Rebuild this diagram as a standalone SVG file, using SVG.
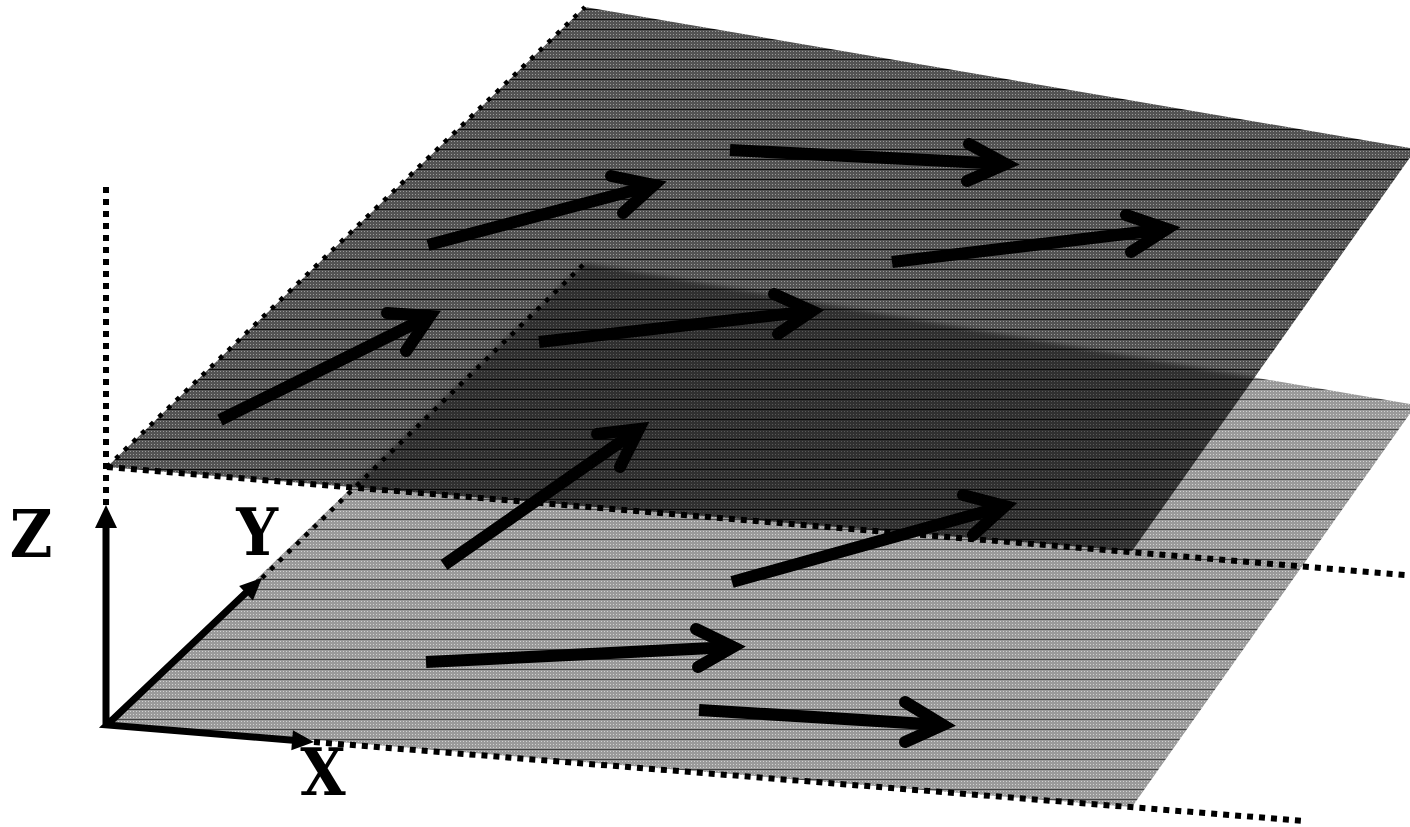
<svg xmlns="http://www.w3.org/2000/svg" width="1410" height="827" viewBox="0 0 1410 827">
  <defs>
    <pattern id="texUpper" width="6" height="10" patternUnits="userSpaceOnUse">
      <rect width="6" height="10" fill="#535353"/>
      <path d="M1 1h1v1h-1z M4 1h1v1h-1z M1 4h1v1h-1z M4 4h1v1h-1z M1 7h1v1h-1z M4 7h1v1h-1z" fill="#9a9a9a"/>
      <rect y="9" width="6" height="1" fill="#0a0a0a"/>
    </pattern>
    <pattern id="texLower" width="6" height="10" patternUnits="userSpaceOnUse">
      <rect width="6" height="10" fill="#9a9a9a"/>
      <path d="M1 1h1v1h-1z M4 1h1v1h-1z M1 4h1v1h-1z M4 4h1v1h-1z M1 7h1v1h-1z M4 7h1v1h-1z" fill="#d2d2d2"/>
      <rect y="9" width="6" height="1" fill="#444444"/>
    </pattern>
    <clipPath id="clipUpper">
      <polygon points="107,467 585,7 1416,149 1132,551"/>
    </clipPath>
    <filter id="soft" x="-5%" y="-5%" width="110%" height="110%">
      <feGaussianBlur stdDeviation="2.5"/>
    </filter>
    <style>
      .dotBig { fill: none; stroke: #000; stroke-width: 6; stroke-dasharray: 6 6; }
      .dotSmall { fill: none; stroke: #000; stroke-width: 4.5; stroke-dasharray: 4.5 7.5; }
      .axis { fill: none; stroke: #000; stroke-width: 7; stroke-linejoin: miter; }
      .head { fill: #000; }
      .shaft { fill: none; stroke: #000; stroke-width: 12; stroke-linecap: butt; }
      .barb { fill: none; stroke: #000; stroke-width: 12; stroke-linecap: round; stroke-linejoin: miter; stroke-miterlimit: 10; }
      .label { font-family: "DejaVu Serif", "Liberation Serif", serif; font-weight: bold; font-stretch: condensed; font-size: 65px; fill: #000; text-anchor: middle; }
    </style>
  </defs>

  <rect width="1410" height="827" fill="#ffffff"/>

  <g id="lower-plane">
    <polygon points="107,723 585,263 1416,405 1132,807" fill="url(#texLower)"/>
  </g>

  <g id="upper-plane">
    <polygon points="107,467 585,7 1416,149 1132,551" fill="url(#texUpper)"/>
    <g clip-path="url(#clipUpper)">
      <polygon points="107,723 585,263 1416,405 1132,807" fill="#000" fill-opacity="0.42" filter="url(#soft)"/>
    </g>
  </g>

  <g id="dotted-edges">
    <line class="dotBig" x1="106" y1="187" x2="106" y2="505"/>
    <line class="dotSmall" x1="107" y1="467" x2="585" y2="7"/>
    <line class="dotBig" x1="107" y1="467" x2="1405" y2="575"/>
    <line class="dotSmall" x1="262" y1="578" x2="585" y2="263"/>
    <line class="dotBig" x1="314" y1="742" x2="1305" y2="821"/>
  </g>

  <g id="axes">
    <path class="axis" d="M106,520 L106,725 M253,586 L107,725 L302,741"/>
    <polygon class="head" points="106,505 95,528 117,528"/>
    <polygon class="head" points="262,578 252.9,600.4 239.1,585.9"/>
    <polygon class="head" points="314,742 292.9,730.2 291.3,750.2"/>
  </g>

  <g id="flow-arrows">
    <g id="arrow-a"><path class="shaft" d="M220,420 L430,316"/><path class="barb" d="M387,313 L430,316 L406,351"/></g>
    <g id="arrow-b"><path class="shaft" d="M428,245 L654,185"/><path class="barb" d="M611,176 L654,185 L623,213"/></g>
    <g id="arrow-c"><path class="shaft" d="M730,150 L1006,164"/><path class="barb" d="M969,144 L1006,164 L967,181"/></g>
    <g id="arrow-d"><path class="shaft" d="M892,262 L1167,229"/><path class="barb" d="M1126,215 L1167,229 L1131,252"/></g>
    <g id="arrow-e"><path class="shaft" d="M539,342 L812,311"/><path class="barb" d="M774,294 L812,311 L778,334"/></g>
    <g id="arrow-f"><path class="shaft" d="M444,565 L639,429"/><path class="barb" d="M597,434 L639,429 L620,467"/></g>
    <g id="arrow-g"><path class="shaft" d="M732,582 L1005,506"/><path class="barb" d="M963,495 L1005,506 L973,535"/></g>
    <g id="arrow-h"><path class="shaft" d="M426,662 L733,647"/><path class="barb" d="M696,629 L733,647 L698,667"/></g>
    <g id="arrow-i"><path class="shaft" d="M699,710 L943,725"/><path class="barb" d="M905,702 L943,725 L905,742"/></g>
  </g>

  <g id="labels">
    <text class="label" x="31" y="557">Z</text>
    <text class="label" x="257" y="555">Y</text>
    <text class="label" x="323" y="795">X</text>
  </g>
</svg>
